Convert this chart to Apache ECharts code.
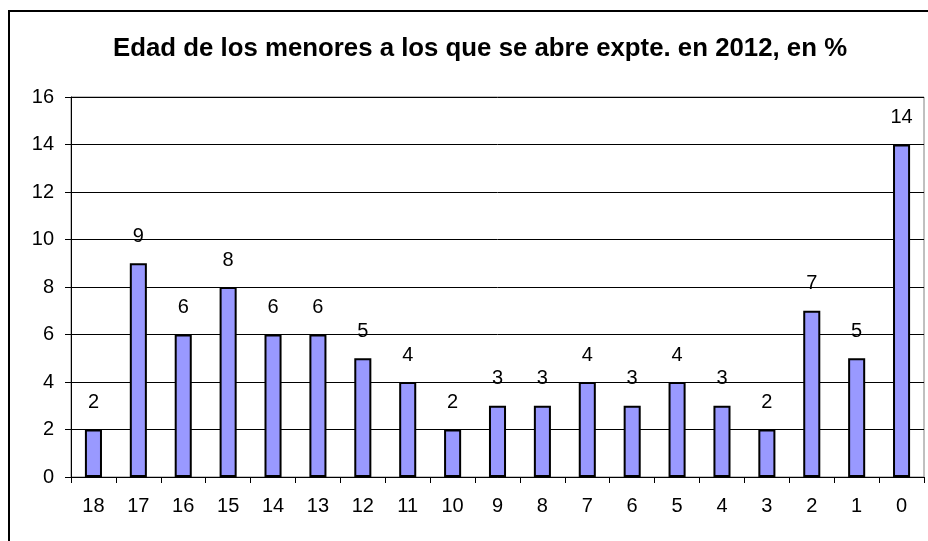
<!DOCTYPE html>
<html><head><meta charset="utf-8">
<script src="https://cdn.jsdelivr.net/npm/echarts@6/dist/echarts.min.js"></script>
<style>html,body{margin:0;padding:0;background:#fff}#c{width:928px;height:541px}</style>
</head><body><div id="c"></div>
<script>
const title = "Edad de los menores a los que se abre expte. en 2012, en %";
const categories = ["18","17","16","15","14","13","12","11","10","9","8","7","6","5","4","3","2","1","0"];
const values = [2,9,6,8,6,6,5,4,2,3,3,4,3,4,3,2,7,5,14];
const yTicks = [0,2,4,6,8,10,12,14,16];

const chart = echarts.init(document.getElementById('c'), null, {renderer:'canvas'});
chart.setOption({
  animation:false,
  backgroundColor:'#fff',
  title:{text:title,left:108,top:31,
    textStyle:{fontFamily:'Liberation Sans',fontWeight:'bold',fontSize:25.8,color:'#000'}},
  graphic:[{type:'rect',shape:{x:9,y:11,width:940,height:620},
    style:{fill:'none',stroke:'#000',lineWidth:2},z:100}],
  grid:{left:71,top:97,right:4,bottom:64,show:true,borderColor:'#808080',borderWidth:1,backgroundColor:'#fff'},
  xAxis:{type:'category',data:categories,boundaryGap:true,
    axisLine:{lineStyle:{color:'#000',width:1}},
    axisTick:{show:true,alignWithLabel:false,length:6,lineStyle:{color:'#000'}},
    axisLabel:{fontFamily:'Liberation Sans',fontSize:20,color:'#000',margin:19}},
  yAxis:{type:'value',min:yTicks[0],max:yTicks[yTicks.length-1],interval:2,
    axisLine:{show:true,lineStyle:{color:'#000',width:1}},
    axisTick:{show:true,length:6,lineStyle:{color:'#000'}},
    axisLabel:{fontFamily:'Liberation Sans',fontSize:20,color:'#000',margin:17},
    splitLine:{lineStyle:{color:'#000',width:1}}},
  series:[{type:'bar',data:values,barWidth:'38%',
    itemStyle:{color:'#9999FF',borderColor:'#000',borderWidth:2},
    label:{show:true,position:'top',distance:17,fontFamily:'Liberation Sans',fontSize:20,color:'#000'}}]
});
</script></body></html>
